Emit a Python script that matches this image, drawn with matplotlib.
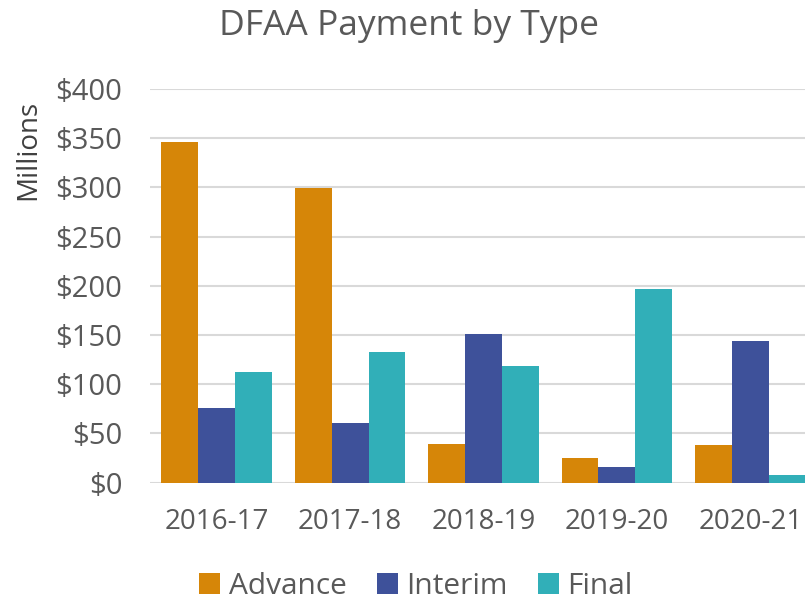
import matplotlib
matplotlib.use("Agg")
import matplotlib.pyplot as plt
import numpy as np
from matplotlib.patches import Patch

categories = ["2016-17", "2017-18", "2018-19", "2019-20", "2020-21"]
advance = [346, 299, 39, 25, 38]
interim = [76, 61, 151, 16, 144]
final = [112, 133, 119, 197, 8]
series_names = ["Advance", "Interim", "Final"]
colors = ["#D68608", "#3E519A", "#31AFB8"]
yticks = [0, 50, 100, 150, 200, 250, 300, 350, 400]
ytick_labels = ["$0", "$50", "$100", "$150", "$200", "$250", "$300", "$350", "$400"]

plt.rcParams['font.family'] = ['Open Sans', 'DejaVu Sans']
txt = "#595959"

fig = plt.figure(figsize=(8.05, 6.0), dpi=100)
W, H = 805, 600
left, right = 150, 817
bottom, top = 482.7, 89
ax = fig.add_axes([left / W, (H - bottom) / H, (right - left) / W, (bottom - top) / H])

x = np.arange(len(categories))
bw = 0.276
for i, (vals, c) in enumerate(zip([advance, interim, final], colors)):
    ax.bar(x + (i - 1) * bw, vals, width=bw, color=c, zorder=3, linewidth=0)

ax.set_xlim(-0.5, len(categories) - 0.5)
ax.set_ylim(0, 400)
ax.set_yticks(yticks)
ax.set_yticklabels(ytick_labels)
ax.set_xticks(x)
ax.set_xticklabels(categories)
ax.tick_params(axis='y', length=0, pad=20, labelsize=21, labelcolor=txt)
ax.tick_params(axis='x', length=0, pad=18, labelsize=20, labelcolor=txt)
ax.grid(axis='y', color="#D9D9D9", linewidth=1.5, zorder=0)
for s in ax.spines.values():
    s.set_visible(False)

fig.text(409 / W, 1 - 26 / H, "DFAA Payment by Type", ha='center', va='center',
         fontsize=25.5, color=txt)
fig.text(28 / W, 1 - 150 / H, "Millions", rotation=90, ha='center', va='center',
         fontsize=20, color="#404040")

handles = [Patch(facecolor=c, edgecolor='none') for c in colors]
leg = fig.legend(handles, series_names, loc='center', bbox_to_anchor=(416 / W, 1 - 586 / H),
                 ncol=3, frameon=False, fontsize=21.5, labelcolor=txt,
                 handlelength=0.7, handleheight=0.7, handletextpad=0.3, columnspacing=1.0)

fig.savefig("out.png", dpi=100)
